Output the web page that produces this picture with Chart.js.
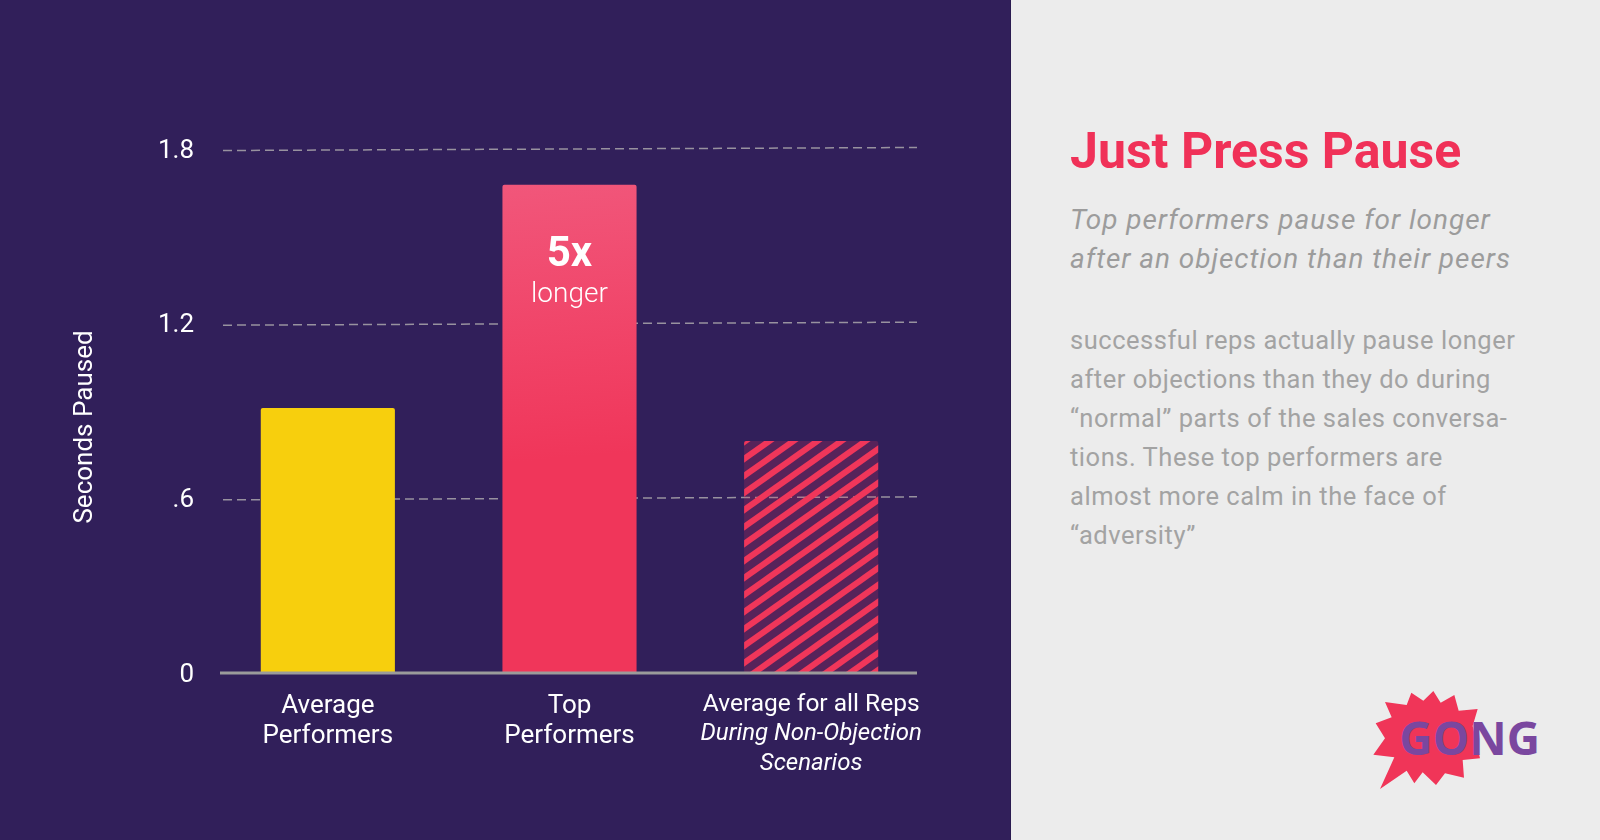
<!DOCTYPE html>
<html>
<head>
<meta charset="utf-8">
<script src="https://cdn.jsdelivr.net/npm/chart.js@4"></script>
<style>
    html, body { margin: 0; padding: 0; width: 1600px; height: 840px; overflow: hidden; background: #311f5a; font-family: Roboto, sans-serif; }
    #chart-box { position: absolute; left: 0; top: 0; width: 1010px; height: 840px; }
    #panel { position: absolute; left: 1010px; top: 0; width: 590px; height: 840px; background: #ececec; border-left: 1px solid #2a1b50; box-sizing: border-box; }
    #panel div { position: absolute; left: 59px; white-space: nowrap; }
    #title { top: 118px; font-size: 50px; line-height: 66px; font-weight: 700; color: #f03158; }
    #sub { top: 200px; font-size: 28px; line-height: 39px; font-style: italic; color: #9c9c9c; letter-spacing: 0.95px; }
    #body { top: 321px; font-size: 25.5px; line-height: 38.9px; color: #a3a3a3; letter-spacing: 0.53px; }
    #logo { position: absolute; left: 1340px; top: 670px; }
</style>
</head>
<body>
<div id="chart-box"><canvas id="pause-chart" width="1010" height="840"></canvas></div>
<div id="panel">
    <div id="title">Just Press Pause</div>
    <div id="sub">Top performers pause for longer<br>after an objection than their peers</div>
    <div id="body">successful reps actually pause longer<br>after objections than they do during<br>“normal” parts of the sales conversa-<br>tions. These top performers are<br>almost more calm in the face of<br>“adversity”</div>
</div>
<svg id="logo" width="220" height="130" viewBox="0 0 660 390">
    <polygon fill="#f03558" points="120,357 163,262 100,254 135,205 107,160 155,142 135,96 200,105 214,68 250,92 280,63 302,98 343,75 356,122 413,117 398,168 420,265 368,270 372,323 315,310 288,345 248,307 223,340 200,302"/>
    <text x="178" y="255" font-family="Open Sans" font-weight="700" font-size="138" fill="#7a479f">GONG</text>
</svg>
<script>
const categories = [['Average', 'Performers'], ['Top', 'Performers'], ['Average for all Reps']];
const italicLines = ['During Non-Objection', 'Scenarios'];
const secondsPaused = [0.91, 1.677, 0.797];
const yTicks = ['0', '.6', '1.2', '1.8'];
const yTitle = 'Seconds Paused';
const callout = ['5x', 'longer'];

function stripes() {
    const tile = document.createElement('canvas');
    tile.width = 24;
    tile.height = 17;
    const c = tile.getContext('2d');
    c.fillStyle = 'rgba(240,54,90,0.2)';
    c.fillRect(0, 0, 24, 17);
    c.strokeStyle = '#f0365a';
    c.lineWidth = 6;
    // one diagonal plus its neighbours so the tile repeats cleanly
    [-17, 0, 17].forEach(dy => {
        c.beginPath();
        c.moveTo(-24, 17 + 17 + dy);
        c.lineTo(48, dy - 17);
        c.stroke();
    });
    return c.createPattern(tile, 'repeat');
}

function barFill(context) {
    const i = context.dataIndex;
    if (i === 0) return '#f7cf0d';
    if (i === 2) return stripes();
    const area = context.chart.chartArea;
    if (!area) return '#f0365a';
    const g = context.chart.ctx.createLinearGradient(0, 185, 40, 673);
    g.addColorStop(0, '#f15b7f');
    g.addColorStop(0.65, '#f0365a');
    g.addColorStop(1, '#f0365a');
    return g;
}

// axis line and dashed grid stop short of the category band, as in the original
const axisLines = {
    id: 'axisLines',
    beforeDatasetsDraw(chart) {
        const ctx = chart.ctx, y = chart.scales.y;
        ctx.save();
        ctx.strokeStyle = '#98929f';
        ctx.lineWidth = 1.5;
        ctx.setLineDash([9, 5]);
        y.ticks.forEach(t => {
            if (t.value === 0) return;
            const py = y.getPixelForValue(t.value);
            ctx.beginPath();
            ctx.moveTo(223, py + 1.5);
            ctx.lineTo(917, py - 1.5);
            ctx.stroke();
        });
        ctx.restore();
    },
    afterDatasetsDraw(chart) {
        const ctx = chart.ctx, y0 = chart.scales.y.getPixelForValue(0);
        ctx.save();
        ctx.strokeStyle = '#9b9b9b';
        ctx.lineWidth = 3;
        ctx.beginPath();
        ctx.moveTo(220, y0);
        ctx.lineTo(917, y0);
        ctx.stroke();
        ctx.restore();
    }
};

const barText = {
    id: 'barText',
    afterDraw(chart) {
        const ctx = chart.ctx;
        const bars = chart.getDatasetMeta(0).data;
        ctx.save();
        ctx.fillStyle = '#fff';
        ctx.textAlign = 'center';
        ctx.textBaseline = 'middle';
        ctx.font = '700 42px Roboto';
        ctx.fillText(callout[0], bars[1].x, bars[1].y + 71);
        ctx.font = '300 28px Roboto';
        ctx.fillText(callout[1], bars[1].x, bars[1].y + 110);
        ctx.font = 'italic 400 24px Roboto';
        const x = chart.scales.x.getPixelForTick(2);
        italicLines.forEach((line, i) => ctx.fillText(line, x, 734 + i * 30));
        // axis title sits lower than the middle of the scale
        ctx.translate(85, 427);
        ctx.rotate(-Math.PI / 2);
        ctx.font = '400 26px Roboto';
        ctx.fillText(yTitle, 0, 0);
        ctx.restore();
    }
};

new Chart(document.getElementById('pause-chart'), {
    type: 'bar',
    data: {
        labels: categories,
        datasets: [{
            data: secondsPaused,
            backgroundColor: barFill,
            borderRadius: { topLeft: 2, topRight: 2 },
            borderSkipped: 'bottom',
            barPercentage: 0.555,
            categoryPercentage: 1
        }]
    },
    options: {
        responsive: false,
        animation: false,
        devicePixelRatio: 1,
        layout: { padding: { top: 149, right: 78, bottom: 60, left: 60 } },
        plugins: {
            legend: { display: false },
            tooltip: { enabled: false }
        },
        scales: {
            x: {
                grid: { display: false },
                border: { display: false },
                ticks: {
                    color: '#fff',
                    font: ctx => ({ family: 'Roboto', size: ctx.index === 2 ? 24.5 : 26, lineHeight: 1.16 }),
                    autoSkip: false,
                    maxRotation: 0,
                    padding: 10
                },
                afterFit(scale) { scale.height = 107; }
            },
            y: {
                min: 0,
                max: 1.8,
                grid: { display: false },
                border: { display: false },
                ticks: {
                    stepSize: 0.6,
                    color: '#fff',
                    font: { family: 'Roboto', size: 26, weight: '400' },
                    padding: 5,
                    labelOffset: 2,
                    callback: (v, i) => yTicks[i]
                },
                afterFit(scale) { scale.width = 147; }
            }
        }
    },
    plugins: [axisLines, barText]
});
</script>
</body>
</html>
